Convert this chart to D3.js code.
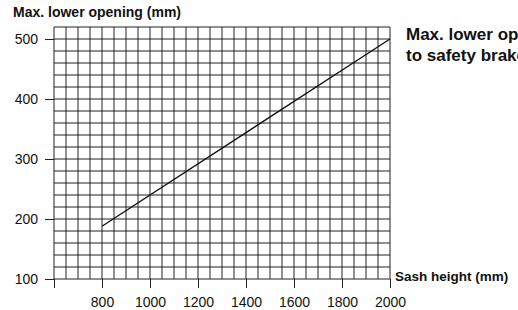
<!DOCTYPE html>
<html>
<head>
<meta charset="utf-8">
<script src="https://cdn.jsdelivr.net/npm/d3@7"></script>
<style>
  body { margin: 0; background: #fff; }
  svg { display: block; font-family: "Liberation Sans", Arial, Helvetica, sans-serif; }
  .bold { font-weight: bold; }
</style>
</head>
<body>
<div class="chart"></div>
<script>
// data
var sashHeight = [800, 2000];
var lowerOpening = [188, 500];
var xTicks = [800, 1000, 1200, 1400, 1600, 1800, 2000];
var yTicks = [100, 200, 300, 400, 500];
var noteLines = ["Max. lower opening due", "to safety brake"];

var svgWidth = 518;
var svgHeight = 310;

var svg = d3.select(".chart")
  .append("svg")
  .attr("width", svgWidth)
  .attr("height", svgHeight);

// scales: grid covers 600-2000 by 100-520
var x = d3.scaleLinear().domain([600, 2000]).range([54, 390]);
var y = d3.scaleLinear().domain([100, 520]).range([279, 27]);

var grid = svg.append("g")
  .attr("stroke", "#222")
  .attr("stroke-width", 1);

// vertical grid lines every 50 mm
grid.selectAll(".vline")
  .data(d3.range(600, 2001, 50))
  .enter()
  .append("line")
  .attr("x1", d => x(d))
  .attr("x2", d => x(d))
  .attr("y1", y(520))
  .attr("y2", y(100));

// horizontal grid lines every 20 mm
grid.selectAll(".hline")
  .data(d3.range(100, 521, 20))
  .enter()
  .append("line")
  .attr("x1", x(600))
  .attr("x2", x(2000))
  .attr("y1", d => y(d))
  .attr("y2", d => y(d));

// left axis, ticks only
var leftAxis = d3.axisLeft(y)
  .tickValues(yTicks)
  .tickSize(9)
  .tickPadding(7);

var yAxis = svg.append("g")
  .attr("transform", `translate(${x(600)}, 0)`)
  .call(leftAxis);

// bottom axis, ticks at 600 (unlabelled) and the labelled ones
var bottomAxis = d3.axisBottom(x)
  .tickValues([600].concat(xTicks))
  .tickFormat(d => d === 600 ? "" : d)
  .tickSize(9)
  .tickPadding(9);

var xAxis = svg.append("g")
  .attr("transform", `translate(0, ${y(100)})`)
  .call(bottomAxis);

[yAxis, xAxis].forEach(function(ax) {
  ax.select(".domain").remove();
  ax.selectAll("line").attr("stroke", "#222");
  ax.selectAll("text")
    .attr("fill", "#111")
    .style("font-size", "14px")
    .style("font-family", "'Liberation Sans', Arial, sans-serif");
});

// the curve
var line = d3.line()
  .x(d => x(d[0]))
  .y(d => y(d[1]));

svg.append("path")
  .datum(d3.zip(sashHeight, lowerOpening))
  .attr("d", line)
  .attr("fill", "none")
  .attr("stroke", "#111")
  .attr("stroke-width", 1.3);

// labels
svg.append("text")
  .classed("bold", true)
  .attr("x", 13)
  .attr("y", 17)
  .style("font-size", "14px")
  .attr("fill", "#111")
  .text("Max. lower opening (mm)");

svg.append("text")
  .classed("bold", true)
  .attr("x", 395)
  .attr("y", 281)
  .style("font-size", "13.5px")
  .attr("fill", "#111")
  .text("Sash height (mm)");

// note runs off the right edge, as in the original
svg.selectAll(".note")
  .data(noteLines)
  .enter()
  .append("text")
  .classed("bold", true)
  .attr("x", 406)
  .attr("y", (d, i) => 40 + i * 21)
  .style("font-size", "17px")
  .attr("fill", "#111")
  .text(d => d);
</script>
</body>
</html>
